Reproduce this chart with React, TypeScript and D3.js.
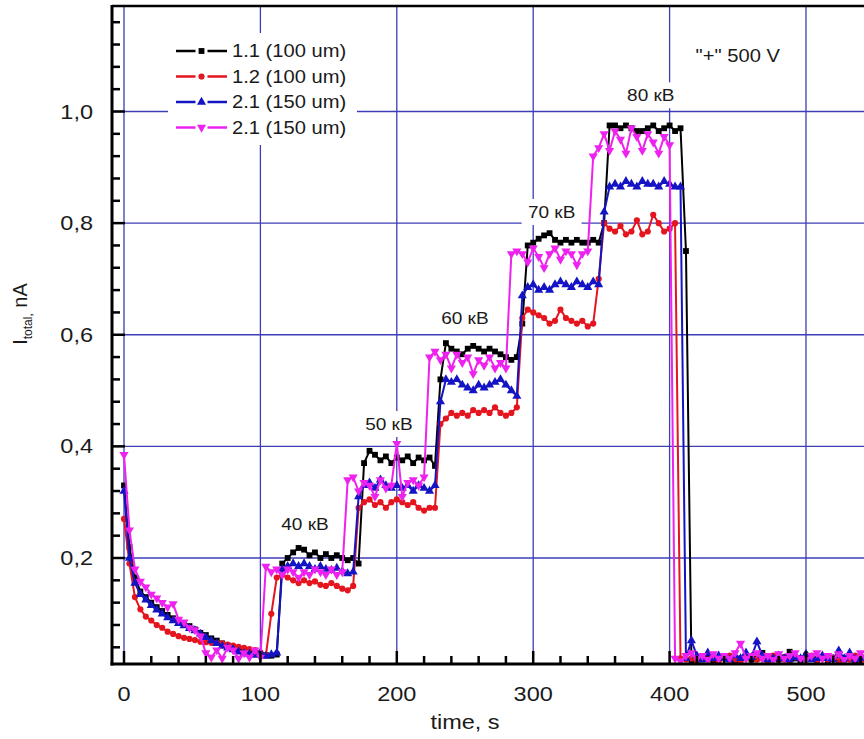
import React from 'react';
import * as d3 from 'd3';

// sampling instants, s
const time = [
  0, 4, 8, 12, 16, 20, 24, 28, 32, 36,
  40, 44, 48, 52, 56, 60, 64, 68, 72, 76,
  80, 84, 88, 92, 96, 100, 104, 108, 112, 116,
  120, 124, 128, 132, 136, 140, 144, 148, 152, 156,
  160, 164, 168, 172, 176, 180, 184, 188, 192, 196,
  200, 204, 208, 212, 216, 220, 224, 228, 232, 236,
  240, 244, 248, 252, 256, 260, 264, 268, 272, 276,
  280, 284, 288, 292, 296, 300, 304, 308, 312, 316,
  320, 324, 328, 332, 336, 340, 344, 348, 352, 356,
  360, 364, 368, 372, 376, 380, 384, 388, 392, 396,
  400, 404, 408, 412, 416, 420, 424, 428, 432, 436,
  440, 444, 448, 452, 456, 460, 464, 468, 472, 476,
  480, 484, 488, 492, 496, 500, 504, 508, 512, 516,
  520, 524, 528, 532, 536, 540, 544,
];

// 1.1 (100 um)
const s11 = [
  0.33, 0.22, 0.165, 0.14, 0.13, 0.12, 0.112, 0.105, 0.098, 0.092,
  0.088, 0.082, 0.078, 0.072, 0.066, 0.062, 0.056, 0.052, 0.047, 0.043,
  0.039, 0.036, 0.033, 0.031, 0.029, 0.027, 0.026, 0.025, 0.027, 0.19,
  0.2, 0.21, 0.218, 0.215, 0.205, 0.21, 0.2, 0.207, 0.2, 0.205,
  0.2, 0.196, 0.2, 0.19, 0.37, 0.392, 0.385, 0.375, 0.382, 0.37,
  0.38, 0.375, 0.382, 0.37, 0.38, 0.375, 0.38, 0.365, 0.52, 0.585,
  0.575, 0.57, 0.565, 0.575, 0.58, 0.575, 0.57, 0.575, 0.57, 0.565,
  0.56, 0.555, 0.56, 0.62, 0.76, 0.765, 0.772, 0.778, 0.782, 0.77,
  0.765, 0.77, 0.765, 0.77, 0.765, 0.765, 0.77, 0.765, 0.8, 0.975,
  0.975, 0.97, 0.975, 0.97, 0.965, 0.965, 0.97, 0.975, 0.965, 0.97,
  0.975, 0.965, 0.97, 0.75, 0.015, 0.02, 0.018, 0.025, 0.015, 0.02,
  0.022, 0.018, 0.015, 0.02, 0.025, 0.018, 0.02, 0.03, 0.015, 0.02,
  0.018, 0.022, 0.032, 0.02, 0.015, 0.025, 0.02, 0.018, 0.022, 0.015,
  0.02, 0.025, 0.018, 0.02, 0.015, 0.022, 0.02,
];

// 1.2 (100 um)
const s12 = [
  0.27, 0.19, 0.13, 0.108, 0.095, 0.088, 0.08, 0.075, 0.068, 0.064,
  0.06, 0.057, 0.055, 0.053, 0.05, 0.049, 0.048, 0.048, 0.047, 0.045,
  0.043, 0.041, 0.039, 0.037, 0.035, 0.031, 0.025, 0.1, 0.165, 0.17,
  0.165, 0.16, 0.155, 0.16, 0.155, 0.158, 0.152, 0.15, 0.155, 0.15,
  0.145, 0.142, 0.15, 0.29, 0.3, 0.305, 0.295, 0.3, 0.29, 0.3,
  0.305, 0.3, 0.295, 0.3, 0.29, 0.285, 0.29, 0.29, 0.44, 0.45,
  0.46, 0.455, 0.46, 0.455, 0.465, 0.46, 0.465, 0.46, 0.47, 0.46,
  0.455, 0.46, 0.47, 0.63, 0.645, 0.64, 0.635, 0.63, 0.62, 0.625,
  0.645, 0.63, 0.625, 0.62, 0.625, 0.615, 0.62, 0.7, 0.8, 0.79,
  0.785, 0.795, 0.78, 0.785, 0.805, 0.78, 0.785, 0.815, 0.8, 0.785,
  0.79, 0.8, 0.02, 0.018, 0.02, 0.015, 0.022, 0.018, 0.02, 0.015,
  0.02, 0.025, 0.018, 0.015, 0.02, 0.022, 0.018, 0.02, 0.015, 0.025,
  0.02, 0.018, 0.015, 0.022, 0.02, 0.018, 0.025, 0.015, 0.02, 0.018,
  0.022, 0.015, 0.02, 0.018, 0.025, 0.015, 0.02,
];

// 2.1 (150 um), blue
const s21a = [
  0.32, 0.2, 0.155, 0.135, 0.125, 0.115, 0.107, 0.1, 0.093, 0.088,
  0.083, 0.079, 0.074, 0.07, 0.064, 0.058, 0.052, 0.047, 0.042, 0.039,
  0.036, 0.032, 0.029, 0.028, 0.026, 0.03, 0.024, 0.027, 0.03, 0.18,
  0.185, 0.19, 0.185, 0.19, 0.185, 0.18, 0.185, 0.18, 0.178, 0.182,
  0.176, 0.172, 0.175, 0.31, 0.33, 0.335, 0.325, 0.34, 0.33, 0.325,
  0.33, 0.325, 0.33, 0.32, 0.33, 0.325, 0.32, 0.33, 0.48, 0.52,
  0.515, 0.52, 0.51, 0.505, 0.5, 0.51, 0.505, 0.51, 0.515, 0.52,
  0.51, 0.5, 0.49, 0.67, 0.685, 0.69, 0.68, 0.685, 0.68, 0.69,
  0.695, 0.69, 0.685, 0.695, 0.69, 0.685, 0.695, 0.69, 0.82, 0.865,
  0.87, 0.865, 0.875, 0.87, 0.865, 0.875, 0.87, 0.87, 0.865, 0.875,
  0.87, 0.865, 0.865, 0.02, 0.052, 0.025, 0.018, 0.03, 0.02, 0.025,
  0.02, 0.018, 0.025, 0.02, 0.03, 0.022, 0.05, 0.025, 0.018, 0.02,
  0.025, 0.02, 0.018, 0.022, 0.02, 0.028, 0.018, 0.02, 0.025, 0.02,
  0.018, 0.034, 0.02, 0.03, 0.018, 0.02, 0.022,
];

// 2.1 (150 um), magenta
const s21b = [
  0.385, 0.25, 0.18, 0.158, 0.148, 0.135, 0.128, 0.12, 0.112, 0.118,
  0.09, 0.085, 0.075, 0.071, 0.06, 0.03, 0.022, 0.035, 0.02, 0.04,
  0.035, 0.02, 0.03, 0.022, 0.035, 0.022, 0.185, 0.175, 0.18, 0.17,
  0.18, 0.175, 0.165, 0.175, 0.17, 0.18, 0.175, 0.17, 0.18, 0.17,
  0.175, 0.34, 0.345, 0.32, 0.335, 0.33, 0.31, 0.34, 0.325, 0.33,
  0.405, 0.31, 0.335, 0.34, 0.33, 0.345, 0.56, 0.57, 0.555, 0.565,
  0.54, 0.565, 0.55, 0.56, 0.53, 0.555, 0.545, 0.56, 0.54, 0.55,
  0.54, 0.745, 0.75, 0.745, 0.73, 0.755, 0.74, 0.72, 0.745, 0.755,
  0.735, 0.75, 0.745, 0.725, 0.745, 0.75, 0.92, 0.935, 0.96, 0.93,
  0.965, 0.95, 0.925, 0.97, 0.955, 0.93, 0.96, 0.945, 0.925, 0.955,
  0.94, 0.02, 0.015, 0.025, 0.03, 0.02, 0.025, 0.018, 0.028, 0.02,
  0.025, 0.02, 0.03, 0.047, 0.02, 0.025, 0.03, 0.02, 0.025, 0.018,
  0.028, 0.02, 0.025, 0.03, 0.02, 0.018, 0.025, 0.03, 0.02, 0.025,
  0.02, 0.028, 0.018, 0.025, 0.02, 0.03, 0.02,
];

const seriesLabels = ['1.1 (100 um)', '1.2 (100 um)', '2.1 (150 um)', '2.1 (150 um)'];
const seriesValues = [s11, s12, s21a, s21b];
const seriesColors = ['#000000', '#e4151e', '#1414c4', '#ee22ee'];
const seriesMarkers = ['square', 'circle', 'up', 'down'];

const xTicks = [0, 100, 200, 300, 400, 500];
const xTickLabels = ['0', '100', '200', '300', '400', '500'];
const yTicks = [0.2, 0.4, 0.6, 0.8, 1.0];
const yTickLabels = ['0,2', '0,4', '0,6', '0,8', '1,0'];

const annotationTexts = ['40 кВ', '50 кВ', '60 кВ', '70 кВ', '80 кВ', '"+" 500 V'];
const annotationT = [132.7, 194.2, 249.9, 313.5, 386.2, 450];
const annotationV = [0.261, 0.44, 0.63, 0.82, 1.029, 1.099];
const annotationBoxed = [true, true, true, true, true, false];

const W = 864;
const H = 739;
const frame = { left: 112, right: 864, top: 6, bottom: 664 };
const FONT = '"Liberation Sans", Arial, Helvetica, sans-serif';
const SX = 1.12;

const x = d3.scaleLinear().domain([0, 500]).range([124, 806]);
const y = d3.scaleLinear().domain([0.2, 1.0]).range([558, 111.5]);

function markerPath(kind: string) {
  if (kind === 'square') return d3.symbol().type(d3.symbolSquare).size(34)()!;
  if (kind === 'circle') return d3.symbol().type(d3.symbolCircle).size(30)()!;
  return d3.symbol().type(d3.symbolTriangle).size(36)()!;
}

function Txt(props: { x: number; y: number; size: number; anchor?: string; children: React.ReactNode }) {
  const { x: tx, y: ty, size, anchor = 'middle', children } = props;
  return (
    <text
      transform={`translate(${tx},${ty}) scale(${SX},1)`}
      fontSize={size}
      fontFamily={FONT}
      textAnchor={anchor as any}
      dominantBaseline="central"
      fill="#1a1a1a"
    >
      {children}
    </text>
  );
}

export default function App() {
  const line = d3
    .line<number>()
    .x((_, i) => x(time[i]))
    .y((d) => y(d));

  const xMinor = d3.range(0, 560, 20);
  const yMinor = d3.range(1, 30).map((k) => +(k * 0.04).toFixed(2));

  const gridColor = '#3d3db8';

  // legend geometry
  const legX0 = 176;
  const legX1 = 227;
  const legRow0 = 51;
  const legRowStep = 25.5;

  return (
    <svg
      width={W}
      height={H}
      style={{ position: 'absolute', left: 0, top: 0, background: '#fff' }}
    >
      <defs>
        <clipPath id="plotClip">
          <rect x={frame.left} y={frame.top} width={frame.right - frame.left} height={frame.bottom - frame.top - 1} />
        </clipPath>
      </defs>
      <rect x={0} y={0} width={W} height={H} fill="#fff" />

      {/* grid */}
      {xTicks.map((t) => (
        <line key={'gx' + t} x1={x(t)} x2={x(t)} y1={frame.top} y2={frame.bottom} stroke={gridColor} strokeWidth={1.3} />
      ))}
      {yTicks.map((v) => (
        <line key={'gy' + v} x1={frame.left} x2={frame.right} y1={y(v)} y2={y(v)} stroke={gridColor} strokeWidth={1.3} />
      ))}

      {/* legend background */}
      <rect x={168} y={33} width={189} height={112} fill="#fff" />

      {/* annotation backgrounds */}
      {annotationTexts.map((s, i) =>
        annotationBoxed[i] ? (
          <rect
            key={'ab' + i}
            x={x(annotationT[i]) - 30}
            y={y(annotationV[i]) - 13}
            width={60}
            height={26}
            fill="#fff"
          />
        ) : null
      )}

      {/* data */}
      <g clipPath="url(#plotClip)">
        {seriesValues.map((vals, si) => (
          <g key={'s' + si}>
            <path d={line(vals) || ''} fill="none" stroke={seriesColors[si]} strokeWidth={2} strokeLinejoin="round" />
            {vals.map((v, i) => (
              <path
                key={i}
                d={markerPath(seriesMarkers[si])}
                transform={`translate(${x(time[i])},${y(v)})${seriesMarkers[si] === 'down' ? ' rotate(180)' : ''}`}
                fill={seriesColors[si]}
              />
            ))}
          </g>
        ))}
      </g>

      {/* axes frame */}
      <line x1={frame.left} x2={frame.right} y1={frame.top} y2={frame.top} stroke="#000" strokeWidth={2.5} />
      <line x1={frame.left} x2={frame.left} y1={frame.top - 1} y2={frame.bottom + 1.5} stroke="#000" strokeWidth={3} />
      <line x1={frame.left - 1.5} x2={frame.right} y1={frame.bottom} y2={frame.bottom} stroke="#000" strokeWidth={3} />

      {/* x ticks (inward) */}
      {xMinor.map((t) => (
        <line
          key={'xt' + t}
          x1={x(t)}
          x2={x(t)}
          y1={frame.bottom}
          y2={frame.bottom - (t % 100 === 0 ? 13 : 8)}
          stroke="#000"
          strokeWidth={2.5}
        />
      ))}
      {/* y ticks (inward) */}
      {yMinor.map((v) => (
        <line
          key={'yt' + v}
          x1={frame.left}
          x2={frame.left + (Math.abs(v / 0.2 - Math.round(v / 0.2)) < 1e-6 ? 13 : 8)}
          y1={y(v)}
          y2={y(v)}
          stroke="#000"
          strokeWidth={2.5}
        />
      ))}

      {/* tick labels */}
      {xTicks.map((t, i) => (
        <Txt key={'xl' + t} x={x(t)} y={694} size={21}>
          {xTickLabels[i]}
        </Txt>
      ))}
      {yTicks.map((v, i) => (
        <Txt key={'yl' + v} x={93} y={y(v)} size={21} anchor="end">
          {yTickLabels[i]}
        </Txt>
      ))}

      {/* axis titles */}
      <Txt x={465} y={722} size={21}>time, s</Txt>
      <text
        transform="translate(27,314) rotate(-90)"
        fontSize={20}
        fontFamily={FONT}
        textAnchor="middle"
        fill="#1a1a1a"
      >
        I
        <tspan fontSize={12} dy={5}>total,</tspan>
        <tspan dy={-5}> nA</tspan>
      </text>

      {/* annotations */}
      {annotationTexts.map((s, i) => (
        <Txt key={'an' + i} x={x(annotationT[i])} y={y(annotationV[i])} size={i === 5 ? 18 : 17}>
          {s}
        </Txt>
      ))}

      {/* legend */}
      {seriesLabels.map((lab, si) => {
        const ly = legRow0 + si * legRowStep;
        const mx = (legX0 + legX1) / 2;
        return (
          <g key={'lg' + si}>
            <line x1={legX0} x2={mx - 6} y1={ly} y2={ly} stroke={seriesColors[si]} strokeWidth={2.5} />
            <line x1={mx + 6} x2={legX1} y1={ly} y2={ly} stroke={seriesColors[si]} strokeWidth={2.5} />
            <path
              d={markerPath(seriesMarkers[si])}
              transform={`translate(${mx},${ly})${seriesMarkers[si] === 'down' ? ' rotate(180)' : ''}`}
              fill={seriesColors[si]}
            />
            <Txt x={232} y={ly} size={18} anchor="start">
              {lab}
            </Txt>
          </g>
        );
      })}
    </svg>
  );
}
